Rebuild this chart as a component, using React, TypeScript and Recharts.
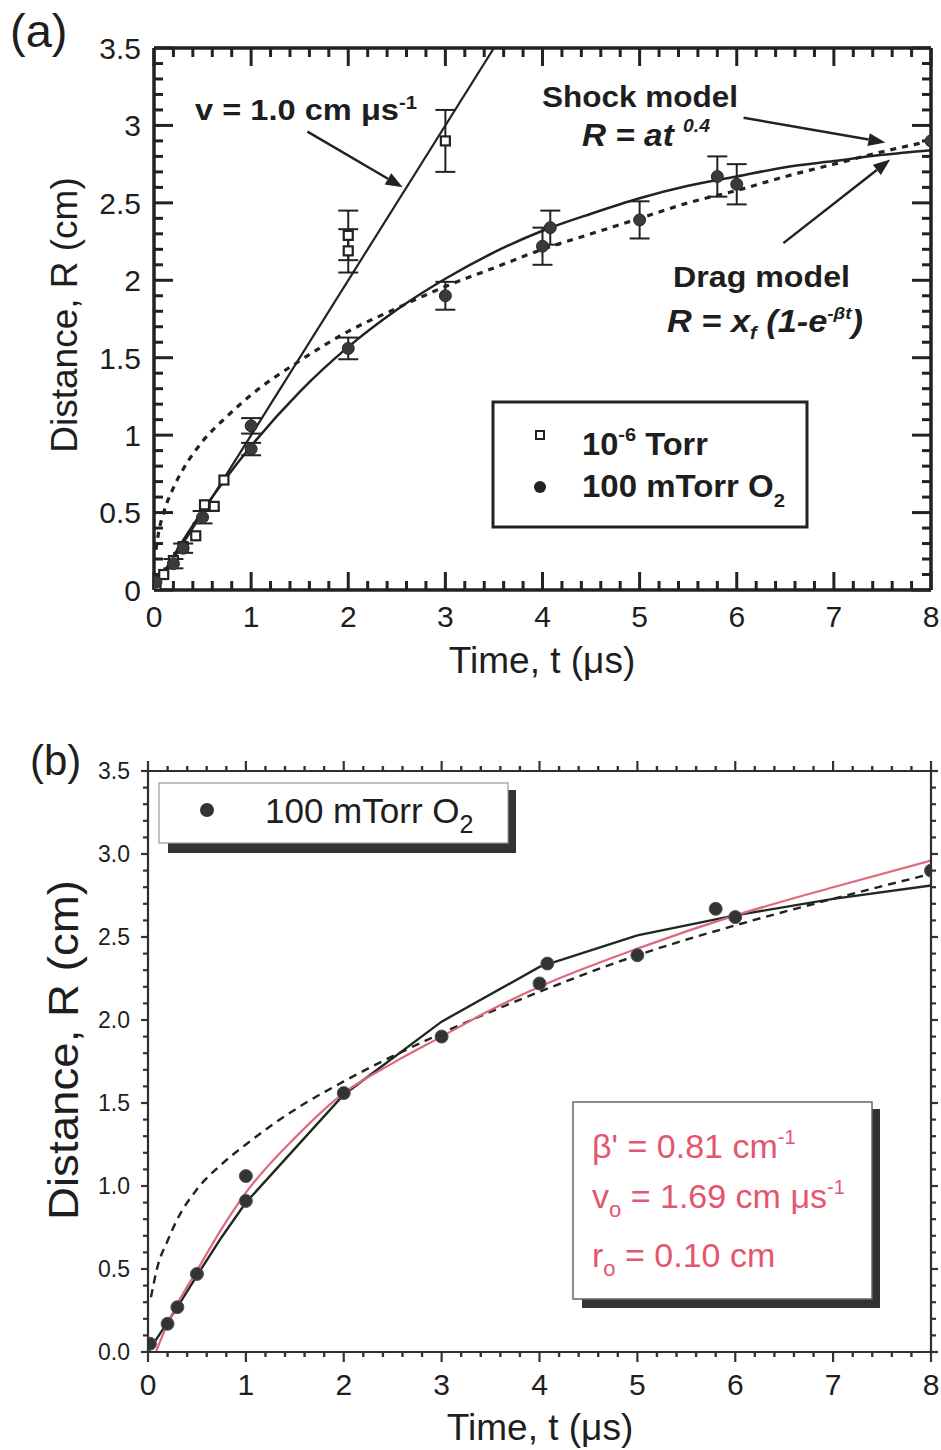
import React from 'react';
import { ComposedChart, Line, Scatter, XAxis, YAxis, ErrorBar, ReferenceLine } from 'recharts';

const FONT = '"Liberation Sans", Arial, Helvetica, sans-serif';

// ---------- tick values ----------
const X_TICKS = [0, 0.2, 0.4, 0.6, 0.8, 1, 1.2, 1.4, 1.6, 1.8, 2, 2.2, 2.4, 2.6, 2.8, 3, 3.2, 3.4, 3.6, 3.8, 4, 4.2, 4.4, 4.6, 4.8, 5, 5.2, 5.4, 5.6, 5.8, 6, 6.2, 6.4, 6.6, 6.8, 7, 7.2, 7.4, 7.6, 7.8, 8];
const Y_TICKS = [0, 0.1, 0.2, 0.3, 0.4, 0.5, 0.6, 0.7, 0.8, 0.9, 1, 1.1, 1.2, 1.3, 1.4, 1.5, 1.6, 1.7, 1.8, 1.9, 2, 2.1, 2.2, 2.3, 2.4, 2.5, 2.6, 2.7, 2.8, 2.9, 3, 3.1, 3.2, 3.3, 3.4, 3.5];
const X_LABELS = [0, 1, 2, 3, 4, 5, 6, 7, 8];
const Y_LABELS = [0, 0.5, 1, 1.5, 2, 2.5, 3, 3.5];
const X_MAJOR = 1;
const Y_MAJOR = 0.5;

// ---------- measured points ----------
// 10^-6 Torr (open squares, panel a)
const VAC_T = [0.02, 0.1, 0.2, 0.3, 0.43, 0.52, 0.62, 0.72, 2.0, 2.0, 3.0];
const VAC_R = [0.03, 0.1, 0.19, 0.28, 0.35, 0.55, 0.54, 0.71, 2.19, 2.29, 2.9];
const VAC_ERR = [0, 0, 0, 0, 0, 0, 0, 0, 0.14, 0.16, 0.2];
// 100 mTorr O2 (filled circles)
const O2_T = [0.02, 0.2, 0.3, 0.5, 1.0, 1.0, 2.0, 3.0, 4.0, 4.08, 5.0, 5.8, 6.0, 8.0];
const O2_R = [0.05, 0.17, 0.27, 0.47, 1.06, 0.91, 1.56, 1.9, 2.22, 2.34, 2.39, 2.67, 2.62, 2.9];
const O2_ERR = [0, 0.03, 0.03, 0.04, 0.05, 0.04, 0.07, 0.09, 0.12, 0.11, 0.12, 0.13, 0.13, 0];

// ---------- model curves, panel (a) ----------
const A_VEL_T = [0, 3.5];
const A_VEL_R = [0, 3.5];
const A_DRAG_T = [0, 0.1, 0.25, 0.5, 0.75, 1, 1.5, 2, 2.5, 3, 3.5, 4, 4.5, 5, 5.5, 6, 6.5, 7, 7.5, 8];
const A_DRAG_R = [0, 0.11, 0.27, 0.51, 0.73, 0.93, 1.28, 1.57, 1.81, 2.01, 2.18, 2.32, 2.43, 2.53, 2.61, 2.67, 2.73, 2.77, 2.81, 2.84];
const A_SHOCK_T = [0.02, 0.05, 0.1, 0.2, 0.3, 0.5, 0.75, 1, 1.5, 2, 2.5, 3, 3.5, 4, 4.5, 5, 5.5, 6, 6.5, 7, 7.5, 8];
const A_SHOCK_R = [0.26, 0.38, 0.5, 0.66, 0.78, 0.96, 1.12, 1.26, 1.48, 1.67, 1.82, 1.96, 2.08, 2.2, 2.3, 2.4, 2.5, 2.58, 2.67, 2.75, 2.83, 2.9];

// ---------- model curves, panel (b) ----------
const B_DRAG_T = [0, 0.1, 0.2, 0.3, 0.5, 0.75, 1, 2, 3, 4, 5, 6, 7, 8];
const B_DRAG_R = [0, 0.09, 0.18, 0.27, 0.46, 0.69, 0.9, 1.55, 1.99, 2.32, 2.51, 2.63, 2.73, 2.81];
const B_FIT_T = [0.08, 0.2, 0.3, 0.5, 0.75, 1, 1.5, 2, 2.5, 3, 3.5, 4, 5, 6, 7, 8];
const B_FIT_R = [0, 0.17, 0.29, 0.49, 0.74, 0.96, 1.29, 1.56, 1.74, 1.9, 2.06, 2.2, 2.43, 2.63, 2.8, 2.96];
const B_SHOCK_T = [0.03, 0.1, 0.2, 0.3, 0.5, 0.75, 1, 1.5, 2, 3, 4, 5, 6, 7, 8];
const B_SHOCK_R = [0.33, 0.52, 0.67, 0.8, 0.98, 1.13, 1.25, 1.46, 1.63, 1.92, 2.17, 2.39, 2.57, 2.73, 2.88];

// ---------- annotation arrows (data coordinates, panel a) ----------
const ARROW_VEL = [{ x: 1.58, y: 2.96 }, { x: 2.56, y: 2.6 }];
const ARROW_SHOCK = [{ x: 6.07, y: 3.05 }, { x: 7.53, y: 2.89 }];
const ARROW_DRAG = [{ x: 6.48, y: 2.24 }, { x: 7.58, y: 2.78 }];

const pts = (t: number[], r: number[], e?: number[]) =>
  t.map((v, i) => (e ? { t: v, r: r[i], e: e[i] } : { t: v, r: r[i] }));

const vacData = pts(VAC_T, VAC_R, VAC_ERR);
const o2Data = pts(O2_T, O2_R, O2_ERR);
const o2DataB = pts(O2_T, O2_R);
const aVel = pts(A_VEL_T, A_VEL_R);
const aDrag = pts(A_DRAG_T, A_DRAG_R);
const aShock = pts(A_SHOCK_T, A_SHOCK_R);
const bDrag = pts(B_DRAG_T, B_DRAG_R);
const bFit = pts(B_FIT_T, B_FIT_R);
const bShock = pts(B_SHOCK_T, B_SHOCK_R);

const isMult = (v: number, m: number) => Math.abs(v / m - Math.round(v / m)) < 1e-6;

// tick labels only (tick marks are drawn separately)
function labelTick(side: 'bottom' | 'left', fontSize: number, offset: number, fmt: (v: number) => string) {
  return (props: any) => {
    const { x, y, payload } = props;
    const v = payload.value as number;
    if (side === 'bottom') {
      return (
        <text x={x} y={y + offset} textAnchor="middle" fontSize={fontSize} fontFamily={FONT} fill="#1e1e1e">
          {fmt(v)}
        </text>
      );
    }
    return (
      <text x={x - offset} y={y + fontSize * 0.36} textAnchor="end" fontSize={fontSize} fontFamily={FONT} fill="#1e1e1e">
        {fmt(v)}
      </text>
    );
  };
}

interface MarkCfg {
  majorLen: number;
  minorLen: number;
  inward: boolean;
  stroke: string;
  sw: number;
  msw: number;
}

// tick marks for a vertical reference (x value): draws on bottom and top frame
function xMark(v: number, c: MarkCfg) {
  const major = isMult(v, X_MAJOR);
  const len = major ? c.majorLen : c.minorLen;
  const w = major ? c.msw : c.sw;
  return (p: any) => {
    const top = Math.min(p.y1, p.y2);
    const bot = Math.max(p.y1, p.y2);
    const x = p.x1;
    const s = c.inward ? 1 : -1;
    return (
      <g>
        <line x1={x} y1={bot} x2={x} y2={bot - s * len} stroke={c.stroke} strokeWidth={w} />
        <line x1={x} y1={top} x2={x} y2={top + s * len} stroke={c.stroke} strokeWidth={w} />
      </g>
    );
  };
}
function yMark(v: number, c: MarkCfg) {
  const major = isMult(v, Y_MAJOR);
  const len = major ? c.majorLen : c.minorLen;
  const w = major ? c.msw : c.sw;
  return (p: any) => {
    const left = Math.min(p.x1, p.x2);
    const right = Math.max(p.x1, p.x2);
    const y = p.y1;
    const s = c.inward ? 1 : -1;
    return (
      <g>
        <line x1={left} y1={y} x2={left + s * len} y2={y} stroke={c.stroke} strokeWidth={w} />
        <line x1={right} y1={y} x2={right - s * len} y2={y} stroke={c.stroke} strokeWidth={w} />
      </g>
    );
  };
}

const Arrow = (p: any) => {
  const { x1, y1, x2, y2 } = p;
  const ang = Math.atan2(y2 - y1, x2 - x1);
  const L = 17;
  const W = 6.5;
  const bx = x2 - L * Math.cos(ang);
  const by = y2 - L * Math.sin(ang);
  const poly = `${x2},${y2} ${bx - W * Math.sin(ang)},${by + W * Math.cos(ang)} ${bx + W * Math.sin(ang)},${by - W * Math.cos(ang)}`;
  return (
    <g>
      <line x1={x1} y1={y1} x2={bx} y2={by} stroke="#222" strokeWidth={2.5} />
      <polygon points={poly} fill="#222" />
    </g>
  );
};

const OpenSquare = (p: any) => (
  <rect x={p.cx - 4.5} y={p.cy - 4.5} width={9} height={9} fill="#fff" stroke="#222" strokeWidth={2.2} />
);
const DotA = (p: any) => <circle cx={p.cx} cy={p.cy} r={6} fill="#3a3a3a" stroke="#2a2a2a" strokeWidth={1} />;
const DotB = (p: any) => <circle cx={p.cx} cy={p.cy} r={6.5} fill="#333" stroke="#555" strokeWidth={1} />;

const fmtA = (v: number) => String(v);
const fmtB = (v: number) => v.toFixed(1);
const fmtX = (v: number) => String(Math.round(v));

function PanelA() {
  const ax = { stroke: '#222', strokeWidth: 3.5 };
  const xm: MarkCfg = { majorLen: 18, minorLen: 9, inward: true, stroke: '#222', sw: 3, msw: 3 };
  const ym: MarkCfg = { majorLen: 19, minorLen: 9, inward: true, stroke: '#222', sw: 3, msw: 3 };
  return (
    <ComposedChart width={941} height={700} margin={{ top: 47, right: 9, bottom: 80, left: 0 }}>
      <XAxis xAxisId={0} type="number" dataKey="t" domain={[0, 8]} allowDataOverflow ticks={X_LABELS} interval={0}
        tickSize={0} tickMargin={0} tickLine={false} axisLine={ax} height={30}
        tick={labelTick('bottom', 30, 37, fmtX)} />
      <XAxis xAxisId="top" orientation="top" type="number" dataKey="t" domain={[0, 8]} allowDataOverflow
        tick={false} tickLine={false} axisLine={ax} height={1} />
      <YAxis yAxisId={0} type="number" dataKey="r" domain={[0, 3.5]} allowDataOverflow ticks={Y_LABELS} interval={0}
        tickSize={0} tickMargin={0} tickLine={false} axisLine={ax} width={154}
        tick={labelTick('left', 30, 13, fmtA)} />
      <YAxis yAxisId="right" orientation="right" type="number" domain={[0, 3.5]} allowDataOverflow
        tick={false} tickLine={false} axisLine={ax} width={1} />

      {X_TICKS.map((v) => (
        <ReferenceLine key={'ax' + v} x={v} ifOverflow="visible" shape={xMark(v, xm)} />
      ))}
      {Y_TICKS.map((v) => (
        <ReferenceLine key={'ay' + v} y={v} ifOverflow="visible" shape={yMark(v, ym)} />
      ))}

      <Line data={aVel} dataKey="r" type="linear" stroke="#222" strokeWidth={2.2} dot={false} activeDot={false} isAnimationActive={false} />
      <Line data={aShock} dataKey="r" type="monotone" stroke="#222" strokeWidth={3.2} strokeDasharray="6 6" dot={false} activeDot={false} isAnimationActive={false} />
      <Line data={aDrag} dataKey="r" type="monotone" stroke="#222" strokeWidth={2.5} dot={false} activeDot={false} isAnimationActive={false} />

      <ReferenceLine segment={ARROW_VEL} shape={Arrow} ifOverflow="visible" />
      <ReferenceLine segment={ARROW_SHOCK} shape={Arrow} ifOverflow="visible" />
      <ReferenceLine segment={ARROW_DRAG} shape={Arrow} ifOverflow="visible" />

      <Scatter data={vacData} dataKey="r" shape={OpenSquare} isAnimationActive={false}>
        <ErrorBar dataKey="e" direction="y" width={10} stroke="#222" strokeWidth={2} />
      </Scatter>
      <Scatter data={o2Data} dataKey="r" shape={DotA} isAnimationActive={false}>
        <ErrorBar dataKey="e" direction="y" width={10} stroke="#222" strokeWidth={2} />
      </Scatter>
    </ComposedChart>
  );
}

function PanelB() {
  const ax = { stroke: '#2e2e2e', strokeWidth: 2.2 };
  const xm: MarkCfg = { majorLen: 10, minorLen: 5, inward: false, stroke: '#333', sw: 2.4, msw: 2.2 };
  const ym: MarkCfg = { majorLen: 7, minorLen: 5, inward: false, stroke: '#333', sw: 2.2, msw: 2.2 };
  return (
    <ComposedChart width={941} height={750} margin={{ top: 70, right: 9, bottom: 68, left: 0 }}>
      <XAxis xAxisId={0} type="number" dataKey="t" domain={[0, 8]} allowDataOverflow ticks={X_LABELS} interval={0}
        tickSize={0} tickMargin={0} tickLine={false} axisLine={ax} height={30}
        tick={labelTick('bottom', 30, 43, fmtX)} />
      <XAxis xAxisId="top" orientation="top" type="number" dataKey="t" domain={[0, 8]} allowDataOverflow
        tick={false} tickLine={false} axisLine={ax} height={1} />
      <YAxis yAxisId={0} type="number" dataKey="r" domain={[0, 3.5]} allowDataOverflow ticks={Y_LABELS} interval={0}
        tickSize={0} tickMargin={0} tickLine={false} axisLine={ax} width={148}
        tick={labelTick('left', 23, 18, fmtB)} />
      <YAxis yAxisId="right" orientation="right" type="number" domain={[0, 3.5]} allowDataOverflow
        tick={false} tickLine={false} axisLine={ax} width={1} />

      {X_TICKS.map((v) => (
        <ReferenceLine key={'bx' + v} x={v} ifOverflow="visible" shape={xMark(v, xm)} />
      ))}
      {Y_TICKS.map((v) => (
        <ReferenceLine key={'by' + v} y={v} ifOverflow="visible" shape={yMark(v, ym)} />
      ))}

      <Line data={bShock} dataKey="r" type="monotone" stroke="#222" strokeWidth={2.4} strokeDasharray="8 6" dot={false} activeDot={false} isAnimationActive={false} />
      <Line data={bDrag} dataKey="r" type="linear" stroke="#1d2a22" strokeWidth={2.4} dot={false} activeDot={false} isAnimationActive={false} />
      <Line data={bFit} dataKey="r" type="monotone" stroke="#e0687c" strokeWidth={2.2} dot={false} activeDot={false} isAnimationActive={false} />
      <Scatter data={o2DataB} dataKey="r" shape={DotB} isAnimationActive={false} />
    </ComposedChart>
  );
}

const RED = '#e4566e';

function Overlay() {
  return (
    <svg width={941} height={1450} style={{ position: 'absolute', left: 0, top: 0, pointerEvents: 'none' }} fontFamily={FONT}>
      {/* ---------- panel (a) ---------- */}
      <text x={10} y={47} fontSize={47} fill="#1e1e1e">(a)</text>
      <text transform="translate(77,315) rotate(-90)" textAnchor="middle" fontSize={37} fill="#1e1e1e">Distance, R (cm)</text>
      <text x={542} y={673} textAnchor="middle" fontSize={37} fill="#1e1e1e">Time, t (μs)</text>

      <text x={195} y={120} fontSize={29} fontWeight="bold" fill="#1e1e1e" textLength={222} lengthAdjust="spacingAndGlyphs">
        v = 1.0 cm μs<tspan dy={-11} fontSize={18}>-1</tspan>
      </text>
      <text x={542} y={107} fontSize={30} fontWeight="bold" fill="#1e1e1e" textLength={196} lengthAdjust="spacingAndGlyphs">Shock model</text>
      <text x={582} y={146} fontSize={31} fontWeight="bold" fontStyle="italic" fill="#1e1e1e" textLength={128} lengthAdjust="spacingAndGlyphs">
        R = at <tspan dy={-14} fontSize={18}>0.4</tspan>
      </text>
      <text x={673} y={287} fontSize={30} fontWeight="bold" fill="#1e1e1e" textLength={177} lengthAdjust="spacingAndGlyphs">Drag model</text>
      <text x={667} y={332} fontSize={31} fontWeight="bold" fontStyle="italic" fill="#1e1e1e" textLength={196} lengthAdjust="spacingAndGlyphs">
        R = x<tspan dy={7} fontSize={18}>f</tspan><tspan dy={-7}> (1-e</tspan><tspan dy={-13} fontSize={17}>-βt</tspan><tspan dy={13}>)</tspan>
      </text>

      <rect x={493} y={402} width={314} height={125} fill="#fff" stroke="#222" strokeWidth={3} />
      <rect x={536} y={431} width={8} height={8} fill="#fff" stroke="#222" strokeWidth={2} />
      <text x={582} y={455} fontSize={31} fontWeight="bold" fill="#1e1e1e" textLength={126} lengthAdjust="spacingAndGlyphs">
        10<tspan dy={-14} fontSize={19}>-6</tspan><tspan dy={14}> Torr</tspan>
      </text>
      <circle cx={540} cy={487} r={6} fill="#222" />
      <text x={582} y={497} fontSize={31} fontWeight="bold" fill="#1e1e1e" textLength={203} lengthAdjust="spacingAndGlyphs">
        100 mTorr O<tspan dy={10} fontSize={19}>2</tspan>
      </text>

      {/* ---------- panel (b) ---------- */}
      <text x={30} y={775} fontSize={42} fill="#1e1e1e">(b)</text>
      <text transform="translate(78,1050) rotate(-90)" textAnchor="middle" fontSize={42} fill="#1e1e1e" textLength={340} lengthAdjust="spacingAndGlyphs">Distance, R (cm)</text>
      <text x={540} y={1440} textAnchor="middle" fontSize={37} fill="#1e1e1e">Time, t (μs)</text>

      <rect x={168} y={843} width={348} height={10} fill="#333" />
      <rect x={507} y={790} width={9} height={63} fill="#333" />
      <rect x={159} y={783} width={349} height={60} fill="#fff" stroke="#999" strokeWidth={1.2} />
      <circle cx={207} cy={810} r={7} fill="#333" />
      <text x={265} y={823} fontSize={35} fill="#1e1e1e">
        100 mTorr O<tspan dy={10} fontSize={25}>2</tspan>
      </text>

      <rect x={582} y={1299} width={297} height={9} fill="#333" />
      <rect x={872} y={1109} width={8} height={199} fill="#333" />
      <rect x={573} y={1102} width={299} height={197} fill="#fff" stroke="#666" strokeWidth={1.5} />
      <text x={592} y={1158} fontSize={34} fill={RED}>
        β' = 0.81 cm<tspan dy={-14} fontSize={20}>-1</tspan>
      </text>
      <text x={592} y={1208} fontSize={34} fill={RED}>
        v<tspan dy={9} fontSize={22}>o</tspan><tspan dy={-9}> = 1.69 cm μs</tspan><tspan dy={-14} fontSize={20}>-1</tspan>
      </text>
      <text x={592} y={1267} fontSize={34} fill={RED}>
        r<tspan dy={9} fontSize={22}>o</tspan><tspan dy={-9}> = 0.10 cm</tspan>
      </text>
    </svg>
  );
}

export default function App() {
  return (
    <div style={{ position: 'absolute', left: 0, top: 0, width: 941, height: 1450, background: '#fff', overflow: 'hidden' }}>
      <div style={{ position: 'absolute', left: 0, top: 0 }}>
        <PanelA />
      </div>
      <div style={{ position: 'absolute', left: 0, top: 700 }}>
        <PanelB />
      </div>
      <Overlay />
    </div>
  );
}
